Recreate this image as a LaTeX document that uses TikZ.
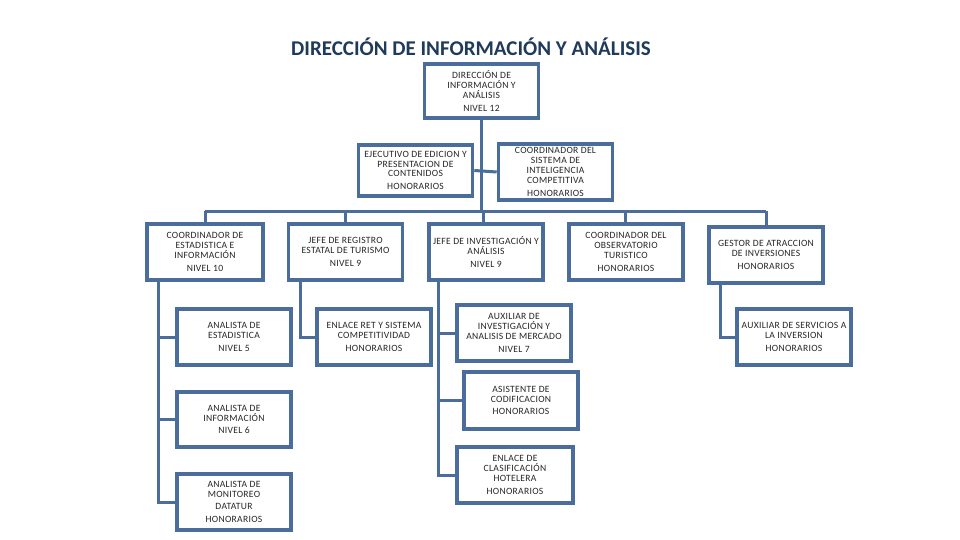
\documentclass[tikz,border=0pt]{standalone}
\usepackage{fontspec}
\setmainfont{Carlito}
\newfontfamily\boxfont[LetterSpace=3]{Carlito}
\usetikzlibrary{positioning,calc}
\definecolor{orgblue}{HTML}{4A6D9B}
\definecolor{titlenavy}{HTML}{1F3A5A}
\begin{document}
\begin{tikzpicture}[x=1pt, y=-1pt,
  every node/.style={font=\boxfont\fontsize{9.6}{9.8}\selectfont, text=black!85},
  orgbox/.style={draw=orgblue, line width=3.6pt, fill=white, align=center, inner sep=0pt, minimum width=114pt},
  link/.style={draw=orgblue, line width=3pt}]
\fill[white] (0,0) rectangle (960,540);
\useasboundingbox (0,0) rectangle (960,540);
\node[font=\fontsize{21}{24}\selectfont\bfseries, text=titlenavy] (title) at (471,47) {DIRECCIÓN DE INFORMACIÓN Y ANÁLISIS};
\node[orgbox, minimum height=54pt] (dir) at (481.5,91) {DIRECCIÓN DE\\INFORMACIÓN Y\\ANÁLISIS\\[3pt]NIVEL 12};
\node[orgbox, minimum height=51pt] (ejec) at (415.5,170.5) {EJECUTIVO DE EDICION Y\\PRESENTACION DE\\CONTENIDOS\\[3pt]HONORARIOS};
\node[orgbox, minimum height=56pt] (sist) at (555.5,172) {COORDINADOR DEL\\SISTEMA DE\\INTELIGENCIA\\COMPETITIVA\\[3pt]HONORARIOS};
\node[orgbox, minimum height=56pt, minimum width=116pt] (coordest) at (205,252) {COORDINADOR DE\\ESTADISTICA E\\INFORMACIÓN\\[3pt]NIVEL 10};
\node[orgbox, minimum height=56pt] (jefereg) at (345.5,252) {JEFE DE REGISTRO\\ESTATAL DE TURISMO\\[3pt]NIVEL 9};
\node[orgbox, minimum height=56pt] (jefeinv) at (486,252) {JEFE DE INVESTIGACIÓN Y\\ANÁLISIS\\[3pt]NIVEL 9};
\node[orgbox, minimum height=56pt] (obs) at (626,252) {COORDINADOR DEL\\OBSERVATORIO\\TURISTICO\\[3pt]HONORARIOS};
\node[orgbox, minimum height=56pt] (gestor) at (766,255) {GESTOR DE ATRACCION\\DE INVERSIONES\\[3pt]HONORARIOS};
\node[orgbox, minimum height=56pt] (anaest) at (234,337) {ANALISTA DE\\ESTADISTICA\\[3pt]NIVEL 5};
\node[orgbox, minimum height=56pt] (enlret) at (374,337) {ENLACE RET Y SISTEMA\\COMPETITIVIDAD\\[3pt]HONORARIOS};
\node[orgbox, minimum height=56pt] (auxinv) at (514,333) {AUXILIAR DE\\INVESTIGACIÓN Y\\ANALISIS DE MERCADO\\[3pt]NIVEL 7};
\node[orgbox, minimum height=56pt] (auxserv) at (794,337) {AUXILIAR DE SERVICIOS A\\LA INVERSION\\[3pt]HONORARIOS};
\node[orgbox, minimum height=55pt] (anainf) at (234,419.5) {ANALISTA DE\\INFORMACIÓN\\[3pt]NIVEL 6};
\node[orgbox, minimum height=56pt] (anamon) at (234,502) {ANALISTA DE\\MONITOREO\\[3pt]DATATUR\\[3pt]HONORARIOS};
\node[orgbox, minimum height=57pt] (asist) at (521,400.5) {ASISTENTE DE\\CODIFICACION\\[3pt]HONORARIOS};
\node[orgbox, minimum height=56pt, minimum width=116pt] (enlclas) at (515,475) {ENLACE DE\\CLASIFICACIÓN\\HOTELERA\\[3pt]HONORARIOS};
\coordinate (bus) at (0,211);
\draw[link] (dir.south) -- (dir.south |- bus);
\draw[link] (ejec.east) -- (sist.west);
\draw[link] (coordest.north |- bus) -- (gestor.north |- bus);
\foreach \n/\dx in {coordest/0, jefereg/0, jefeinv/-3, obs/-1, gestor/0}
  \draw[link] ([xshift=\dx pt]\n.north) -- ([xshift=\dx pt]\n.north |- bus);
\foreach \p/\c/\dx in {coordest/anaest/-47, coordest/anainf/-47, coordest/anamon/-47, jefereg/enlret/-45.5, jefeinv/auxinv/-48, jefeinv/asist/-48, jefeinv/enlclas/-48, gestor/auxserv/-46}
  \draw[link] ([xshift=\dx pt]\p.south) |- (\c.west);
\end{tikzpicture}
\end{document}
